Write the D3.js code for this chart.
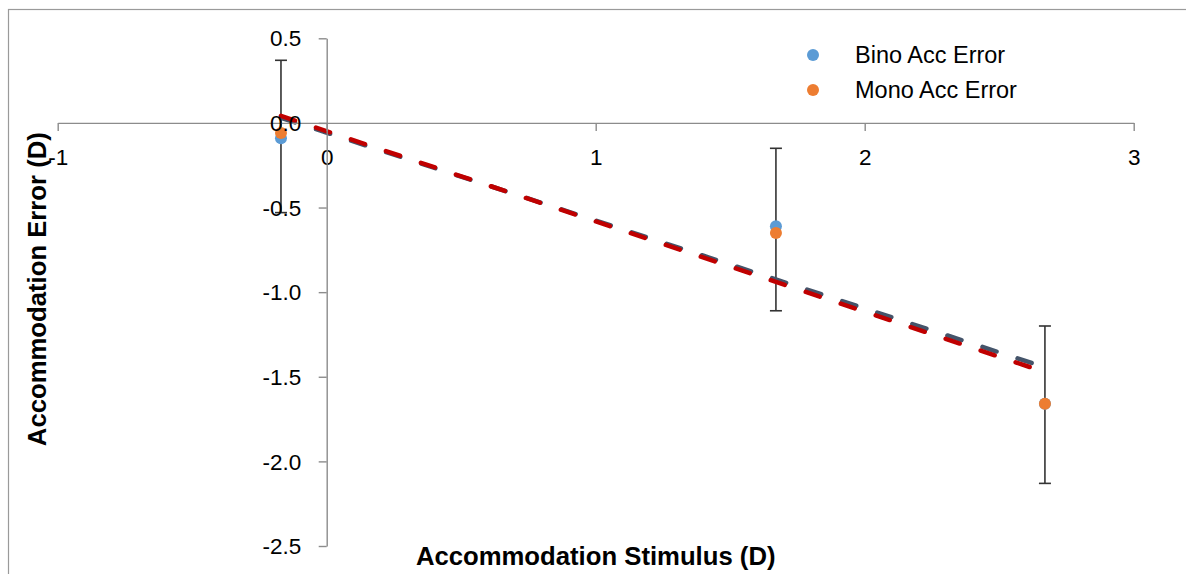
<!DOCTYPE html>
<html>
<head>
<meta charset="utf-8">
<script src="https://cdn.jsdelivr.net/npm/d3@7"></script>
<style>
  html, body { margin: 0; padding: 0; background: #fff; }
  svg { display: block; }
  text { font-family: "Liberation Sans", Arial, sans-serif; fill: #000; }
</style>
</head>
<body>
<svg id="chart" width="1186" height="574"></svg>
<script>
// ---- data ----
const stimulus   = [-0.17, 1.67, 2.67];
const binoError  = [-0.09, -0.61, -1.66];
const monoError  = [-0.06, -0.65, -1.66];
const errTop     = [0.37, -0.15, -1.20];
const errBottom  = [-0.53, -1.11, -2.13];
const xTicks     = [-1, 0, 1, 2, 3];
const yTicks     = [0.5, 0.0, -0.5, -1.0, -1.5, -2.0, -2.5];
const seriesNames = ["Bino Acc Error", "Mono Acc Error"];
const xTitle = "Accommodation Stimulus (D)";
const yTitle = "Accommodation Error (D)";

const colors = { bino: "#5B9BD5", mono: "#ED7D31", binoTrend: "#44546A", monoTrend: "#C00000" };

const svg = d3.select("#chart");

// frame
svg.append("rect").attr("x", 8.5).attr("y", 9.5).attr("width", 1300).attr("height", 700)
  .attr("fill", "none").attr("stroke", "#9a9a9a").attr("stroke-width", 1.2);

const x = d3.scaleLinear().domain([-1, 3]).range([57.7, 1133.7]);
const y = d3.scaleLinear().domain([-2.5, 0.5]).range([546, 38.3]);

const hy = f => d => f(d).replace("\u2212", "-");

// axes
const axisColor = "#8c8c8c";
const xAxis = svg.append("g").attr("transform", `translate(0,${y(0)})`)
  .call(d3.axisBottom(x).tickValues(xTicks).tickSize(8).tickFormat(hy(d3.format("d"))).tickSizeOuter(0));
xAxis.select(".domain").attr("stroke", axisColor).attr("stroke-width", 1.4);
xAxis.selectAll(".tick line").attr("stroke", axisColor).attr("stroke-width", 1.4);
xAxis.selectAll(".tick text").attr("font-size", 22.5).attr("font-family", "Liberation Sans, Arial, sans-serif")
  .attr("fill", "#000").attr("dy", "0.71em").attr("y", 26.5);

const yAxis = svg.append("g").attr("transform", `translate(${x(0)},0)`)
  .call(d3.axisLeft(y).tickValues(yTicks).tickSize(8).tickFormat(hy(d3.format(".1f"))).tickSizeOuter(0));
yAxis.select(".domain").attr("stroke", axisColor).attr("stroke-width", 1.4);
yAxis.selectAll(".tick line").attr("stroke", axisColor).attr("stroke-width", 1.4);
yAxis.selectAll(".tick text").attr("font-size", 22.5).attr("font-family", "Liberation Sans, Arial, sans-serif")
  .attr("fill", "#000").attr("x", -25.5).attr("dy", "0.34em");

// linear fits computed from each series
function fit(xs, ys) {
  const mx = d3.mean(xs), my = d3.mean(ys);
  let sxy = 0, sxx = 0;
  xs.forEach((v, i) => { sxy += (v - mx) * (ys[i] - my); sxx += (v - mx) * (v - mx); });
  const b = sxy / sxx;
  return { b, a: my - b * mx };
}
const plot = svg.append("g");

// error bars
const eb = plot.append("g");
stimulus.forEach((s, i) => {
  const cx = x(s);
  eb.append("line").attr("x1", cx).attr("x2", cx).attr("y1", y(errTop[i])).attr("y2", y(errBottom[i]))
    .attr("stroke", "#333").attr("stroke-width", 1.6);
  [errTop[i], errBottom[i]].forEach(v => {
    eb.append("line").attr("x1", cx - 6).attr("x2", cx + 6).attr("y1", y(v)).attr("y2", y(v))
      .attr("stroke", "#333").attr("stroke-width", 1.6);
  });
});

// markers
const seriesData = [
  { vals: binoError, color: colors.bino },
  { vals: monoError, color: colors.mono }
];
seriesData.forEach(sd => {
  plot.append("g").selectAll("circle").data(stimulus).join("circle")
    .attr("cx", d => x(d)).attr("cy", (d, i) => y(sd.vals[i])).attr("r", 6)
    .attr("fill", sd.color);
});

// trendlines
const xmin = d3.min(stimulus), xmax = d3.max(stimulus);
[[binoError, colors.binoTrend, -1.2], [monoError, colors.monoTrend, 0]].forEach(([vals, col, off]) => {
  const f = fit(stimulus, vals);
  plot.append("line")
    .attr("x1", x(xmin)).attr("y1", y(f.a + f.b * xmin) + off)
    .attr("x2", x(xmax)).attr("y2", y(f.a + f.b * xmax) + off)
    .attr("stroke", col).attr("stroke-width", 4.5).attr("stroke-linecap", "round")
    .attr("stroke-dasharray", "14.8 22.1");
});

// raise axis labels above plot
xAxis.raise(); yAxis.raise();

// legend
const legend = svg.append("g");
seriesNames.forEach((n, i) => {
  legend.append("circle").attr("cx", 813).attr("cy", 55 + i * 35).attr("r", 6)
    .attr("fill", i === 0 ? colors.bino : colors.mono);
  legend.append("text").attr("x", 855).attr("y", 63.3 + i * 35).attr("font-size", 23.5).text(n);
});

// titles
svg.append("text").attr("x", x(1)).attr("y", 565).attr("text-anchor", "middle")
  .attr("font-size", 25.7).attr("font-weight", "bold").text(xTitle);
svg.append("text").attr("transform", `translate(46,${(y(0.5) + y(-2.5)) / 2 - 3}) rotate(-90)`)
  .attr("text-anchor", "middle").attr("font-size", 25.7).attr("font-weight", "bold").text(yTitle);
</script>
</body>
</html>
